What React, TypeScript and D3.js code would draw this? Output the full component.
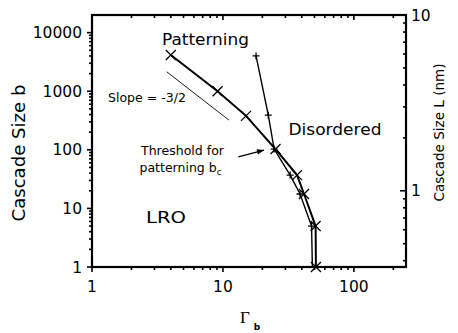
import { useRef, useEffect } from 'react';
import * as d3 from 'd3';

// Cascade data (Gamma_b vs cascade size b)
const gammaCross = [4.0, 9.1, 15.0, 25.2, 36.8, 41.6, 51.0, 51.3];
const sizeCross = [4150, 1000, 380, 103, 37, 17.6, 5.0, 1];
const gammaPlus = [17.9, 22.2, 24.6, 32.6, 38.8, 47.5, 48.2];
const sizePlus = [4000, 390, 103, 37, 17.6, 5.0, 1];

// slope = -3/2 guide line and threshold arrow (data coords)
const slopeGamma = [3.72, 11.1];
const slopeSize = [2150, 322];
const arrowGamma = [13.1, 20.6];
const arrowSize = [76, 99];

const xTickLabels = ['1', '10', '100'];
const yTickLabels = ['1', '10', '100', '1000', '10000'];
const rTickLabels = ['1', '10'];

const W = 458;
const H = 333;
const FONT = 'DejaVu Sans, Arial, sans-serif';

const App = () => {
  const svgRef = useRef<SVGSVGElement>(null);

  useEffect(() => {
    const svg = d3.select(svgRef.current);
    svg.selectAll('*').remove();

    const left = 92, right = 406, top = 15, bottom = 267;

    const x = d3.scaleLog().domain([1, 250]).range([left, right]);
    const y = d3.scaleLog().domain([1, 20000]).range([bottom, top]);
    // b = 20 L^3
    const yR = d3.scaleLog().domain([Math.cbrt(1 / 20), 10]).range([bottom, top]);

    const isMajor = (v: number) => Math.abs(Math.log10(v) - Math.round(Math.log10(v))) < 1e-6;

    const g = svg.append('g');

    // bottom ticks (outward) + top ticks (inward)
    x.ticks().forEach(v => {
      const len = isMajor(v) ? 5 : 3;
      g.append('line').attr('x1', x(v)).attr('x2', x(v))
        .attr('y1', bottom).attr('y2', bottom + len)
        .attr('stroke', '#000').attr('stroke-width', 1.6);
      g.append('line').attr('x1', x(v)).attr('x2', x(v))
        .attr('y1', top).attr('y2', top + len)
        .attr('stroke', '#000').attr('stroke-width', 1.6);
    });
    xTickLabels.forEach(t => {
      g.append('text').attr('x', x(+t)).attr('y', 291.5)
        .attr('text-anchor', 'middle').attr('font-family', FONT).attr('font-size', 15.5)
        .text(t);
    });

    // left ticks (outward)
    y.ticks().filter(v => v < 20000).forEach(v => {
      const len = isMajor(v) ? 5 : 3;
      g.append('line').attr('x1', left - len).attr('x2', left)
        .attr('y1', y(v)).attr('y2', y(v))
        .attr('stroke', '#000').attr('stroke-width', 1.6);
    });
    yTickLabels.forEach(t => {
      g.append('text').attr('x', 82).attr('y', y(+t)).attr('dy', '0.36em')
        .attr('text-anchor', 'end').attr('font-family', FONT).attr('font-size', 15.5)
        .text(t);
    });

    // right ticks (inward)
    yR.ticks().forEach(v => {
      const len = isMajor(v) ? 6 : 3;
      g.append('line').attr('x1', right - len).attr('x2', right)
        .attr('y1', yR(v)).attr('y2', yR(v))
        .attr('stroke', '#000').attr('stroke-width', 1.6);
    });
    rTickLabels.forEach(t => {
      g.append('text').attr('x', 411).attr('y', yR(+t)).attr('dy', '0.36em')
        .attr('font-family', FONT).attr('font-size', 15.5)
        .text(t);
    });

    // frame
    g.append('rect').attr('x', left).attr('y', top)
      .attr('width', right - left).attr('height', bottom - top)
      .attr('fill', 'none').attr('stroke', '#000').attr('stroke-width', 2.2);

    const line = d3.line<[number, number]>().x(d => x(d[0])).y(d => y(d[1]));

    // curves
    g.append('path').attr('d', line(gammaPlus.map((v, i) => [v, sizePlus[i]])))
      .attr('fill', 'none').attr('stroke', '#000').attr('stroke-width', 1.4);
    g.append('path').attr('d', line(gammaCross.map((v, i) => [v, sizeCross[i]])))
      .attr('fill', 'none').attr('stroke', '#000').attr('stroke-width', 2);

    // markers
    gammaCross.forEach((v, i) => {
      const cx = x(v), cy = y(sizeCross[i]), r = 5;
      g.append('path')
        .attr('d', `M${cx - r},${cy - r}L${cx + r},${cy + r}M${cx - r},${cy + r}L${cx + r},${cy - r}`)
        .attr('stroke', '#000').attr('stroke-width', 1.3);
    });
    gammaPlus.forEach((v, i) => {
      if (sizePlus[i] <= 1) return;
      const cx = x(v), cy = y(sizePlus[i]), r = 3.5;
      g.append('path')
        .attr('d', `M${cx - r},${cy}L${cx + r},${cy}M${cx},${cy - r}L${cx},${cy + r}`)
        .attr('stroke', '#000').attr('stroke-width', 1.3);
    });

    // slope guide
    g.append('line')
      .attr('x1', x(slopeGamma[0])).attr('y1', y(slopeSize[0]))
      .attr('x2', x(slopeGamma[1])).attr('y2', y(slopeSize[1]))
      .attr('stroke', '#000').attr('stroke-width', 0.9);

    // arrow
    const ax1 = x(arrowGamma[0]), ay1 = y(arrowSize[0]);
    const ax2 = x(arrowGamma[1]), ay2 = y(arrowSize[1]);
    g.append('line').attr('x1', ax1).attr('y1', ay1).attr('x2', ax2).attr('y2', ay2)
      .attr('stroke', '#000').attr('stroke-width', 1.2);
    const ang = Math.atan2(ay2 - ay1, ax2 - ax1);
    const hl = 7, hw = 2.8;
    const bx = ax2 - hl * Math.cos(ang), by = ay2 - hl * Math.sin(ang);
    g.append('path')
      .attr('d', `M${ax2},${ay2}L${bx - hw * Math.sin(ang)},${by + hw * Math.cos(ang)}L${bx + hw * Math.sin(ang)},${by - hw * Math.cos(ang)}Z`)
      .attr('fill', '#000');

    // annotations
    const txt = (s: string, tx: number, ty: number, size: number, len?: number) => {
      const t = g.append('text').attr('x', tx).attr('y', ty)
        .attr('font-family', FONT).attr('font-size', size).text(s);
      if (len) t.attr('textLength', len).attr('lengthAdjust', 'spacingAndGlyphs');
      return t;
    };
    txt('Patterning', 162, 45, 16.5, 87);
    txt('Slope = -3/2', 108, 101.5, 12.5, 78);
    txt('Threshold for', 141, 155, 12.5, 83);
    const pt = g.append('text').attr('x', 139.5).attr('y', 171.5)
      .attr('font-family', FONT).attr('font-size', 12.5);
    pt.append('tspan').text('patterning b');
    pt.append('tspan').attr('dy', 3).attr('font-size', 8.5).text('c');
    txt('Disordered', 288.5, 135, 16.5, 93);
    txt('LRO', 146, 223.3, 16.5, 40);

    // axis titles
    g.append('text').attr('transform', 'translate(25,153) rotate(-90)')
      .attr('text-anchor', 'middle').attr('font-family', FONT).attr('font-size', 17)
      .attr('textLength', 137).attr('lengthAdjust', 'spacingAndGlyphs')
      .text('Cascade Size b');
    g.append('text').attr('transform', 'translate(444,132.5) rotate(-90)')
      .attr('text-anchor', 'middle').attr('font-family', FONT).attr('font-size', 14)
      .attr('textLength', 138).attr('lengthAdjust', 'spacingAndGlyphs')
      .text('Cascade Size L (nm)');

    const xt = g.append('text').attr('x', 240).attr('y', 323.3);
    xt.append('tspan').attr('font-family', 'Liberation Serif, serif').attr('font-size', 17).text('Γ');
    xt.append('tspan').attr('dx', 4).attr('dy', 6.5).attr('font-family', FONT)
      .attr('font-weight', 'bold').attr('font-size', 9).text('b');
  }, []);

  return (
    <svg ref={svgRef} width={W} height={H}
      style={{ position: 'absolute', left: 0, top: 0, background: '#fff' }} />
  );
};

export default App;
